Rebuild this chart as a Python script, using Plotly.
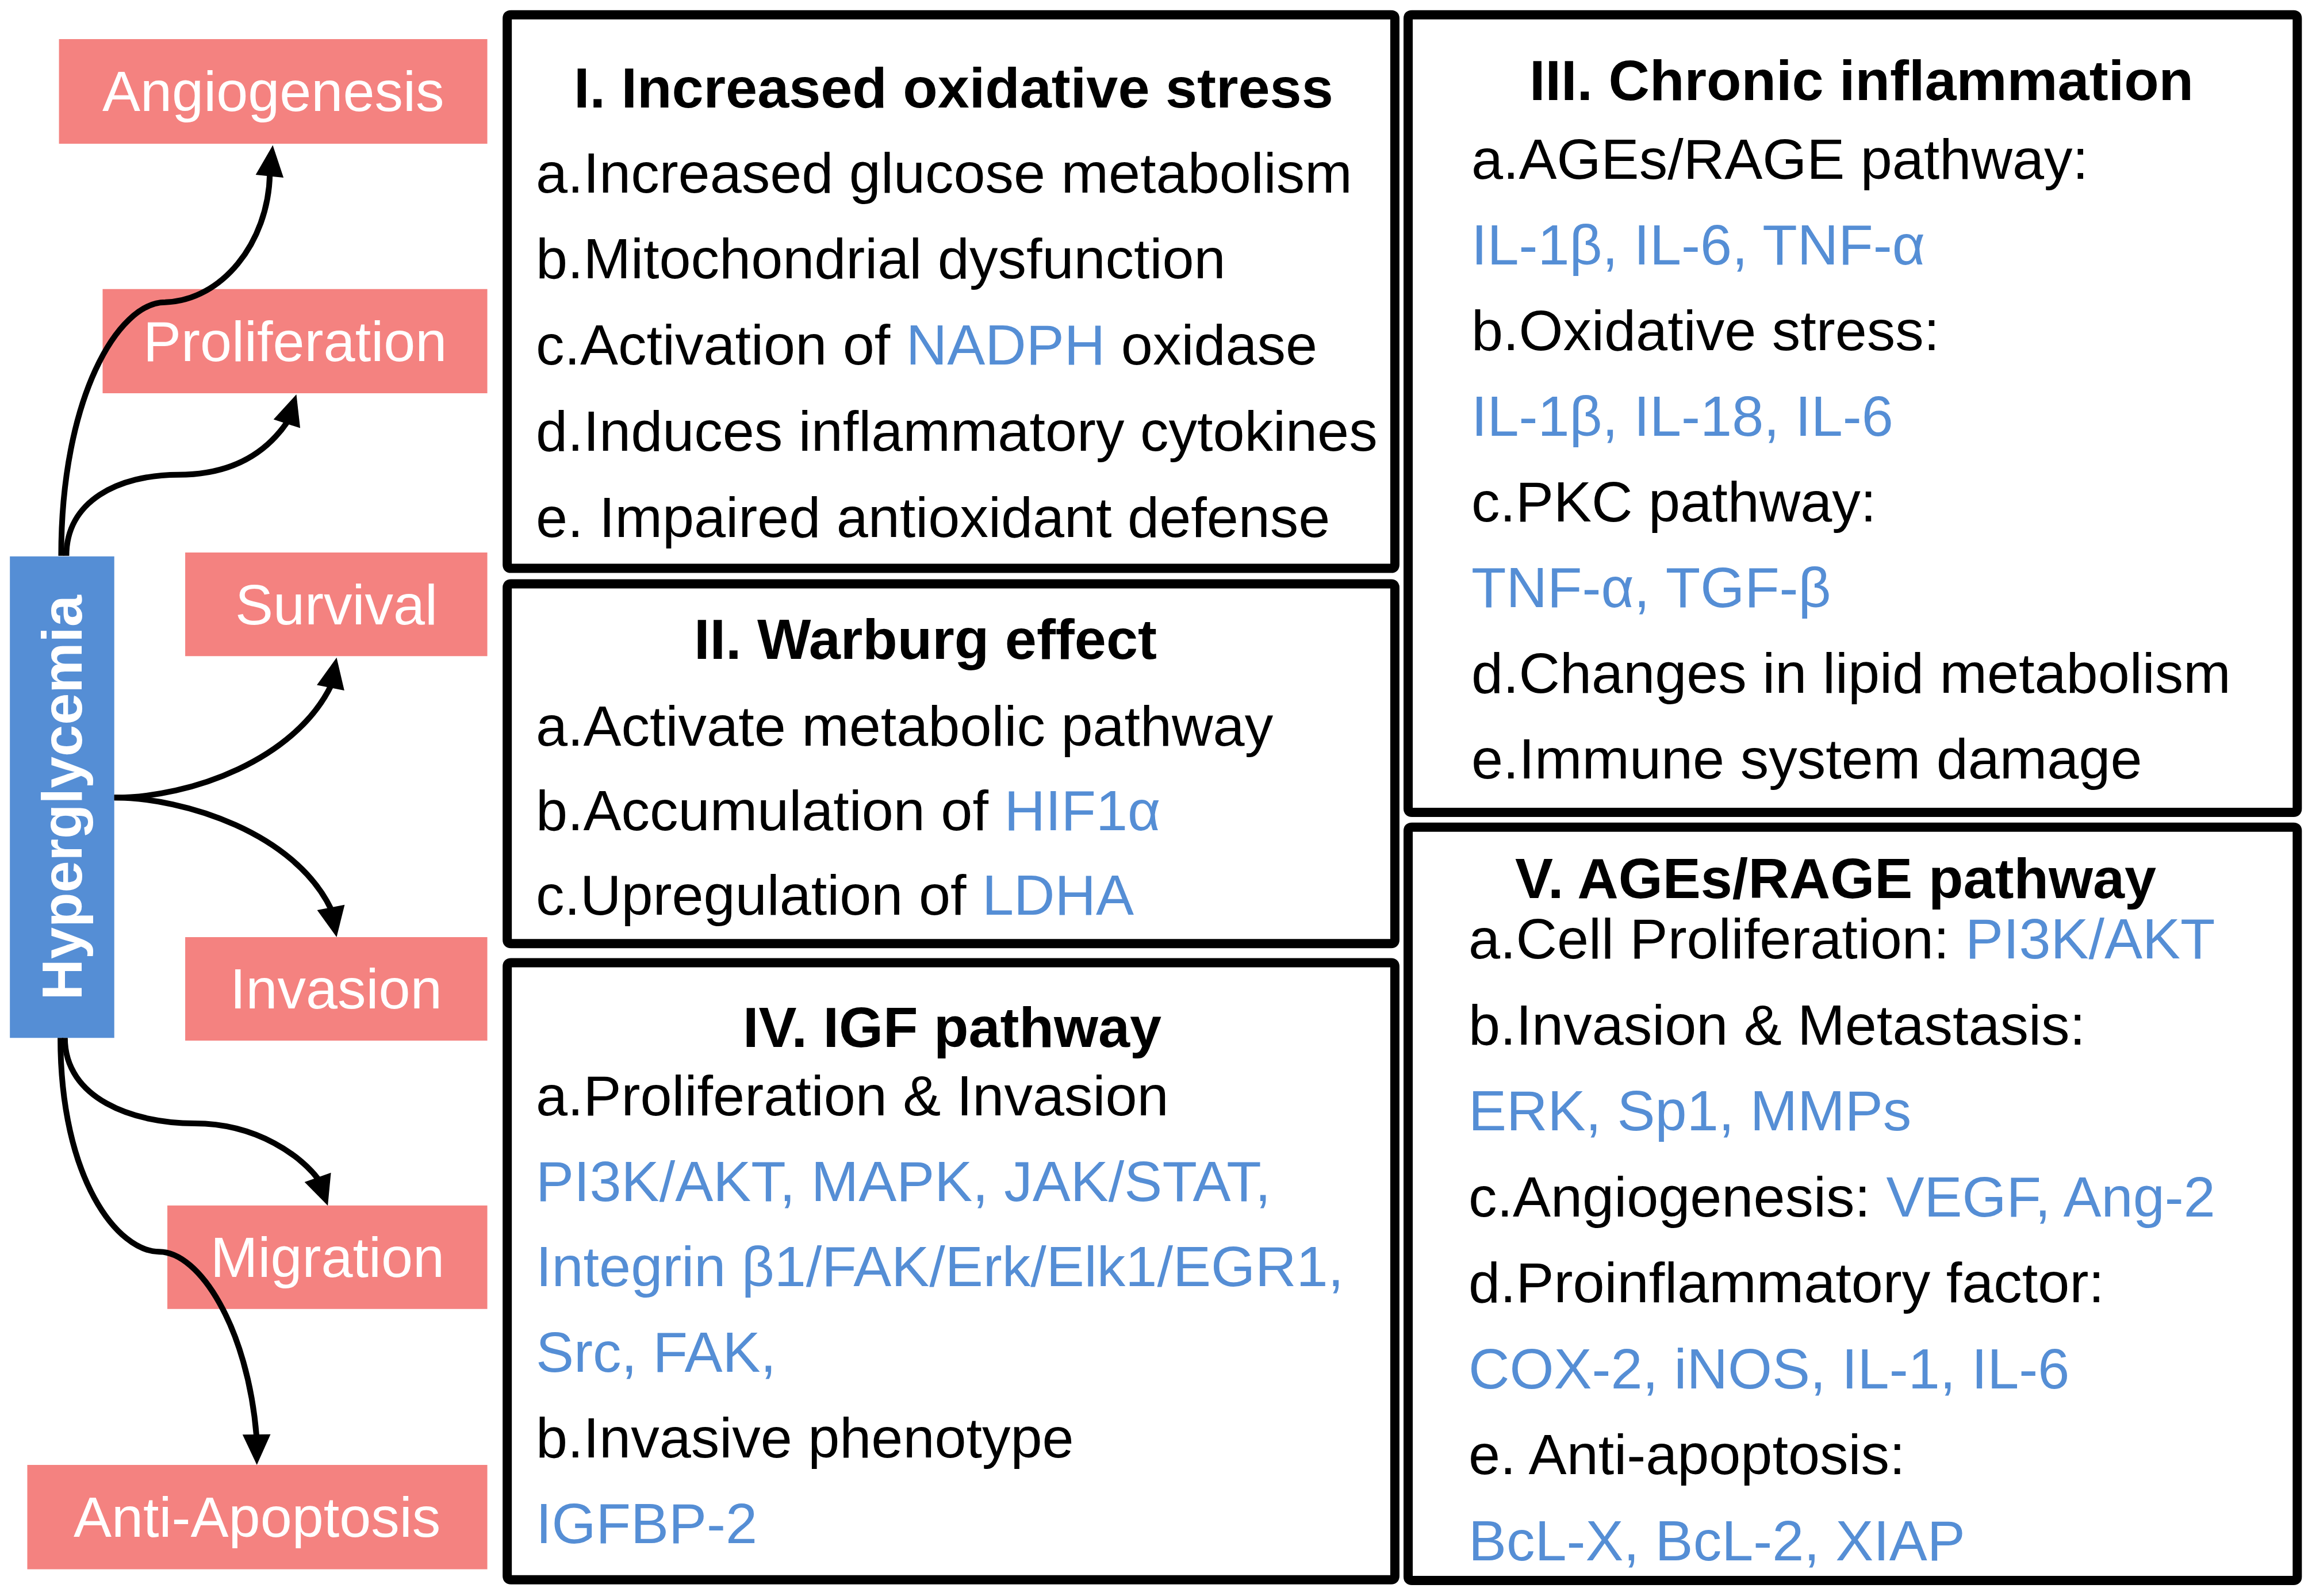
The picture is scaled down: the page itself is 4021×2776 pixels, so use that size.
import re
import plotly.graph_objects as go

# ---- text content ----
outcome_labels = ["Angiogenesis", "Proliferation", "Survival", "Invasion", "Migration", "Anti-Apoptosis"]
source_label = "Hyperglycemia"

# [..] marks gene / pathway names printed in blue
oxidative_title = "I. Increased oxidative stress"
oxidative_lines = [
    "a.Increased glucose metabolism",
    "b.Mitochondrial dysfunction",
    "c.Activation of [NADPH] oxidase",
    "d.Induces inflammatory cytokines",
    "e. Impaired antioxidant defense",
]
warburg_title = "II. Warburg effect"
warburg_lines = [
    "a.Activate metabolic pathway",
    "b.Accumulation of [HIF1α]",
    "c.Upregulation of [LDHA]",
]
igf_title = "IV. IGF pathway"
igf_lines = [
    "a.Proliferation & Invasion",
    "[PI3K/AKT, MAPK, JAK/STAT,]",
    "[Integrin β1/FAK/Erk/Elk1/EGR1,]",
    "[Src, FAK,]",
    "b.Invasive phenotype",
    "[IGFBP-2]",
]
inflammation_title = "III. Chronic inflammation"
inflammation_lines = [
    "a.AGEs/RAGE pathway:",
    "[IL-1β, IL-6, TNF-α]",
    "b.Oxidative stress:",
    "[IL-1β, IL-18, IL-6]",
    "c.PKC pathway:",
    "[TNF-α, TGF-β]",
    "d.Changes in lipid metabolism",
    "e.Immune system damage",
]
ages_title = "V. AGEs/RAGE pathway"
ages_lines = [
    "a.Cell Proliferation: [PI3K/AKT]",
    "b.Invasion & Metastasis:",
    "[ERK, Sp1, MMPs]",
    "c.Angiogenesis: [VEGF, Ang-2]",
    "d.Proinflammatory factor:",
    "[COX-2, iNOS, IL-1, IL-6]",
    "e. Anti-apoptosis:",
    "[BcL-X, BcL-2, XIAP]",
]

# ---- layout (drawing units, 1568 wide) ----
W, H = 4021, 2776
S = W / 1568
PAGE_MARGIN = 8  # default body margin of the html page
FONT = "Liberation Sans, Arial, sans-serif"
FS = 99
PINK = "#F48280"
BLUE = "#558ED5"

outcome_boxes = [
    (40, 330.5, 26.5, 97.5),
    (69.6, 330.5, 196, 266.7),
    (125.6, 330.5, 374.7, 445),
    (125.6, 330.5, 635.6, 705.8),
    (113.5, 330.5, 817.6, 887.8),
    (18.5, 330.5, 993.6, 1064.4),
]
source_box = (6.7, 77.5, 377.4, 704)

# curves: list of cubic segments (p0, c1, c2, p3) and arrow tip
curves = [
    ([((41.5, 377), (41.5, 270), (80, 205), (112, 205)),
      ((112, 205), (150, 204), (182, 165), (183, 118))], (185, 98.5)),
    ([((45, 377), (45, 340), (80, 322), (121, 322)),
      ((121, 322), (160, 322), (182, 305), (195, 286))], (201, 267.5)),
    ([((77.5, 541), (130, 541), (200, 515), (224.5, 465))], (228.3, 446)),
    ([((77.5, 541), (125, 541), (200, 565), (224.7, 617))], (228.3, 635.6)),
    ([((44, 704), (44, 745), (90, 762), (132, 762)),
      ((132, 762), (175, 762), (205, 785), (216, 800))], (222.3, 817.7)),
    ([((41, 704), (41, 800), (80, 849), (108, 849)),
      ((108, 849), (135, 849), (168, 900), (174, 974.4))], (174.2, 993.6)),
]

panels = [
    # box (x0, x1, y0, y1), title pos, text x, first line y, line step
    (oxidative_title, oxidative_lines, (344, 946, 10, 385.5), (646.6, 59.3), 362.5, 117, 58.4),
    (warburg_title, warburg_lines, (344, 946, 396, 640), (627.8, 433.6), 362.5, 492.3, 57.3),
    (igf_title, igf_lines, (344, 946, 653, 1071.5), (645.7, 696.5), 362.5, 743, 58),
    (inflammation_title, inflammation_lines, (955, 1558, 10, 551), (1262.5, 54.5), 997, 108, 58.1),
    (ages_title, ages_lines, (955, 1558, 561, 1072), (1245, 595.5), 995, 636.6, 58.3),
]


def colorize(line):
    return re.sub(r"\[(.*?)\]", r'<span style="color:%s">\1</span>' % BLUE, line)


def rounded_rect(x0, x1, y0, y1, r=2.5):
    return (f"M {x0+r},{y0} L {x1-r},{y0} Q {x1},{y0} {x1},{y0+r} "
            f"L {x1},{y1-r} Q {x1},{y1} {x1-r},{y1} L {x0+r},{y1} "
            f"Q {x0},{y1} {x0},{y1-r} L {x0},{y0+r} Q {x0},{y0} {x0+r},{y0} Z")


fig = go.Figure()
fig.add_trace(go.Scatter(x=[0], y=[0], mode="markers", marker=dict(opacity=0),
                         hoverinfo="skip", showlegend=False))

shapes = []
annotations = []

# left outcome boxes
for label, (x0, x1, y0, y1) in zip(outcome_labels, outcome_boxes):
    shapes.append(dict(type="rect", x0=x0, x1=x1, y0=y0, y1=y1,
                       fillcolor=PINK, line=dict(width=0), layer="below"))
    annotations.append(dict(x=(x0 + x1) / 2, y=(y0 + y1) / 2, text=label,
                            showarrow=False, xanchor="center", yanchor="middle",
                            font=dict(family=FONT, size=FS, color="white")))

# source box
x0, x1, y0, y1 = source_box
shapes.append(dict(type="rect", x0=x0, x1=x1, y0=y0, y1=y1,
                   fillcolor=BLUE, line=dict(width=0), layer="below"))
annotations.append(dict(x=(x0 + x1) / 2, y=(y0 + y1) / 2, text="<b>%s</b>" % source_label,
                        textangle=-90, showarrow=False, xanchor="center", yanchor="middle",
                        font=dict(family=FONT, size=FS, color="white")))

# curved arrows
for segs, tip in curves:
    d = "M %s,%s" % segs[0][0]
    for p0, c1, c2, p3 in segs:
        d += " C %s,%s %s,%s %s,%s" % (c1 + c2 + p3)
    shapes.append(dict(type="path", path=d, line=dict(color="black", width=10)))
    bx, by = segs[-1][3]
    tx, ty = tip
    L = ((tx - bx) ** 2 + (ty - by) ** 2) ** 0.5
    ux, uy = (tx - bx) / L, (ty - by) / L
    hw = 9.5
    # pull base back slightly so the line end is hidden
    bx2, by2 = bx - ux * 1.5, by - uy * 1.5
    tri = "M %f,%f L %f,%f L %f,%f Z" % (tx, ty, bx2 - uy * hw, by2 + ux * hw,
                                         bx2 + uy * hw, by2 - ux * hw)
    shapes.append(dict(type="path", path=tri, fillcolor="black", line=dict(width=0)))

# right text panels
for title, lines, (x0, x1, y0, y1), (tx, ty), lx, ly, step in panels:
    shapes.append(dict(type="path", path=rounded_rect(x0, x1, y0, y1),
                       line=dict(color="black", width=16), fillcolor="rgba(0,0,0,0)"))
    annotations.append(dict(x=tx, y=ty, text="<b>%s</b>" % title, showarrow=False,
                            xanchor="center", yanchor="middle",
                            font=dict(family=FONT, size=FS, color="black")))
    for i, line in enumerate(lines):
        annotations.append(dict(x=lx, y=ly + i * step, text=colorize(line), showarrow=False,
                                xanchor="left", yanchor="middle",
                                font=dict(family=FONT, size=FS, color="black")))

# the page puts the figure 8px in from the corner, so the figure is
# made smaller by that much and its ranges start 8px in
off = PAGE_MARGIN / S
fig.update_layout(
    width=W - PAGE_MARGIN, height=H - PAGE_MARGIN,
    margin=dict(l=0, r=0, t=0, b=0),
    plot_bgcolor="white", paper_bgcolor="white",
    shapes=shapes, annotations=annotations,
    showlegend=False,
)
fig.update_xaxes(range=[off, W / S], visible=False, showgrid=False, zeroline=False, fixedrange=True)
fig.update_yaxes(range=[H / S, off], visible=False, showgrid=False, zeroline=False, fixedrange=True)

fig.write_html("out.html", config={"displayModeBar": False})
